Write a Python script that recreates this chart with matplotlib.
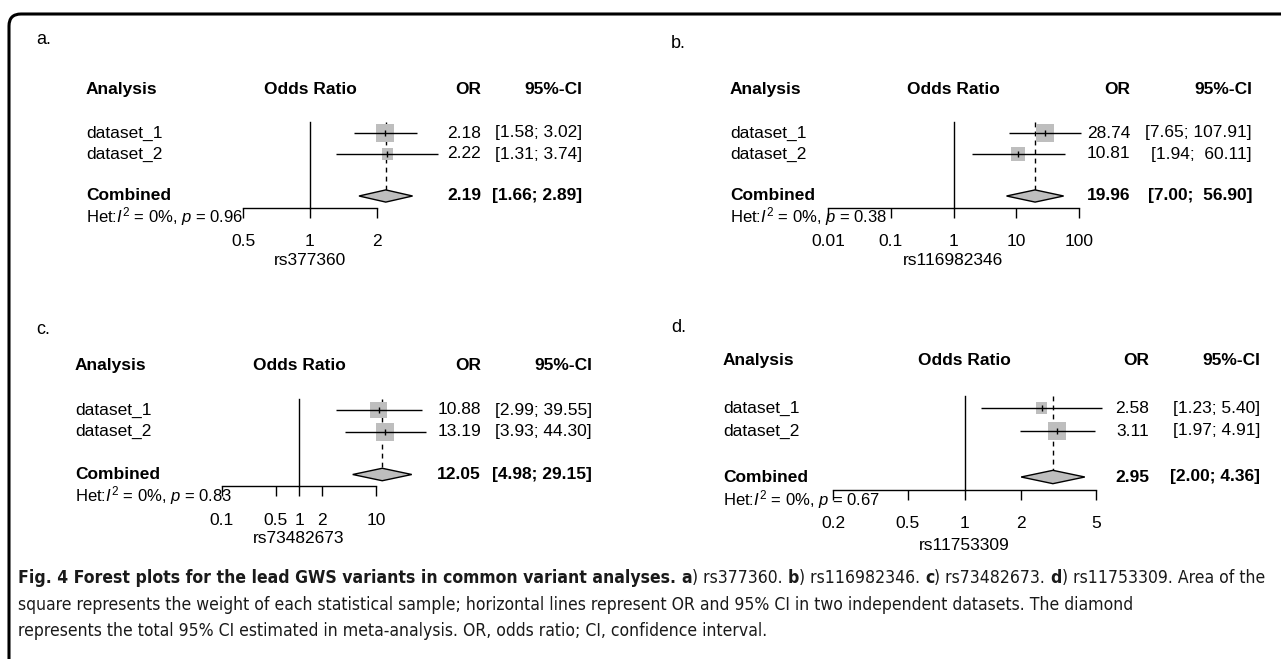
import matplotlib
matplotlib.use('Agg')
import matplotlib.pyplot as plt
import numpy as np
from matplotlib import font_manager
from matplotlib.patches import Polygon, PathPatch
from matplotlib.path import Path
from matplotlib.text import Annotation
from matplotlib.ticker import NullLocator
from matplotlib.transforms import IdentityTransform, blended_transform_factory

W, H = 1281, 659

plt.rcParams['font.family'] = ['Liberation Sans', 'DejaVu Sans']
plt.rcParams['mathtext.fontset'] = 'custom'
plt.rcParams['mathtext.rm'] = 'Liberation Sans'
plt.rcParams['mathtext.it'] = 'Liberation Sans:italic'
plt.rcParams['mathtext.bf'] = 'Liberation Sans:bold'

# ---- data ----
panel_tags = ['a.', 'b.', 'c.', 'd.']
snps = ['rs377360', 'rs116982346', 'rs73482673', 'rs11753309']
studies = ['dataset_1', 'dataset_2']

or_d1 = [2.18, 28.74, 10.88, 2.58]
lo_d1 = [1.58, 7.65, 2.99, 1.23]
hi_d1 = [3.02, 107.91, 39.55, 5.40]

or_d2 = [2.22, 10.81, 13.19, 3.11]
lo_d2 = [1.31, 1.94, 3.93, 1.97]
hi_d2 = [3.74, 60.11, 44.30, 4.91]

or_comb = [2.19, 19.96, 12.05, 2.95]
lo_comb = [1.66, 7.00, 4.98, 2.00]
hi_comb = [2.89, 56.90, 29.15, 4.36]

het_i2 = ['0%', '0%', '0%', '0%']
het_p = ['0.96', '0.38', '0.83', '0.67']

ticks = [[0.5, 1, 2],
         [0.01, 0.1, 1, 10, 100],
         [0.1, 0.5, 1, 2, 10],
         [0.2, 0.5, 1, 2, 5]]
tick_labels = [['0.5', '1', '2'],
               ['0.01', '0.1', '1', '10', '100'],
               ['0.1', '0.5', '1', '2', '10'],
               ['0.2', '0.5', '1', '2', '5']]

# ---- layout (pixels) ----
axis_px = [(243, 377), (828, 1079), (222, 376), (833, 1096)]
row1_px = [133, 133, 410, 408]
row_step = [21, 21, 21.5, 23]
label_x = [86, 730, 75, 723]
or_right = [481, 1130, 481, 1149]
ci_right = [582, 1252, 592, 1260]
tag_xy = [(36, 39), (671, 43), (36, 330), (671, 328)]
xlab_pad = [3, 3, 2, 5]

ROW_TOP, ROW_AXIS = 0.48, 4.55
ROW_HEAD, ROW_COMB, ROW_HET = -1.05, 4.0, 5.0
FS = 12.5
GREY = '#bebebe'
MAX_BOX = 18  # px

fig = plt.figure(figsize=(W / 100, H / 100), dpi=100)

# frame: top and left edges with a rounded corner
r = 12
fx = lambda x: x / W
fy = lambda y: 1 - y / H
verts = [(fx(9), fy(H + 10)), (fx(9), fy(14 + r)), (fx(9), fy(14)),
         (fx(9 + r), fy(14)), (fx(W + 10), fy(14))]
codes = [Path.MOVETO, Path.LINETO, Path.CURVE3, Path.CURVE3, Path.LINETO]
fig.add_artist(PathPatch(Path(verts, codes), transform=fig.transFigure,
                         fill=False, edgecolor='black', linewidth=2.2))


def fmt_ci(lows, highs):
    ls = [f'{v:.2f}' for v in lows]
    hs = [f'{v:.2f}' for v in highs]
    wl = max(len(s) for s in ls)
    wh = max(len(s) for s in hs)
    return [f'[{l.rjust(wl)}; {h.rjust(wh)}]' for l, h in zip(ls, hs)]


for i in range(4):
    x0, x1 = axis_px[i]
    yr1, rp = row1_px[i], row_step[i]
    top = yr1 + (ROW_TOP - 1) * rp
    bot = yr1 + (ROW_AXIS - 1) * rp
    ax = fig.add_axes([x0 / W, 1 - bot / H, (x1 - x0) / W, (bot - top) / H])
    ax.set_xscale('log')
    ax.set_xlim(ticks[i][0], ticks[i][-1])
    ax.set_ylim(ROW_AXIS, ROW_TOP)
    ax.patch.set_visible(False)
    for s in ['top', 'right', 'left']:
        ax.spines[s].set_visible(False)
    ax.spines['bottom'].set_linewidth(1.0)
    ax.set_yticks([])
    ax.set_xticks(ticks[i])
    ax.set_xticklabels(tick_labels[i], fontsize=FS)
    ax.xaxis.set_minor_locator(NullLocator())
    ax.tick_params(axis='x', length=7.2, width=1.0, pad=12)
    ax.set_xlabel(snps[i], fontsize=FS, labelpad=xlab_pad[i])

    # null line and pooled estimate line
    ax.axvline(1, color='black', lw=1.0, clip_on=False)
    est = [or_d1[i], or_d2[i]]
    lo = [lo_d1[i], lo_d2[i]]
    hi = [hi_d1[i], hi_d2[i]]
    rows = [1, 2]
    dh = 0.29
    ax.vlines(or_comb[i], ROW_TOP, ROW_COMB - dh, color='black', lw=1.0,
              linestyle=(0, (3.5, 3)), clip_on=False)

    # study rows: box area from inverse-variance weight
    se = (np.log(hi) - np.log(lo)) / 3.92
    w = 1 / se ** 2
    box = MAX_BOX * np.sqrt(w / w.max())
    ax.scatter(est, rows, s=(box * 0.72) ** 2, marker='s', color=GREY,
               linewidths=0, zorder=2, clip_on=False)
    ax.hlines(rows, lo, hi, color='black', lw=1.0, zorder=3, clip_on=False)
    ax.scatter(est, rows, s=(6 * 0.72) ** 2, marker='|', color='black',
               linewidths=1.0, zorder=4, clip_on=False)

    # diamond
    dia = Polygon([(lo_comb[i], ROW_COMB), (or_comb[i], ROW_COMB - dh),
                   (hi_comb[i], ROW_COMB), (or_comb[i], ROW_COMB + dh)],
                  closed=True, facecolor=GREY, edgecolor='black', lw=1.0,
                  zorder=3, clip_on=False)
    ax.add_patch(dia)

    # text columns
    tr = blended_transform_factory(IdentityTransform(), ax.transData)
    ta = blended_transform_factory(ax.transAxes, ax.transData)
    hdr = dict(fontsize=FS, weight='bold', va='center', transform=tr)
    ax.text(label_x[i], ROW_HEAD, 'Analysis', ha='left', **hdr)
    ax.text(0.5, ROW_HEAD, 'Odds Ratio', ha='center', fontsize=FS,
            weight='bold', va='center', transform=ta)
    ax.text(or_right[i], ROW_HEAD, 'OR', ha='right', **hdr)
    ax.text(ci_right[i], ROW_HEAD, '95%-CI', ha='right', **hdr)

    cis = fmt_ci([lo_d1[i], lo_d2[i], lo_comb[i]],
                 [hi_d1[i], hi_d2[i], hi_comb[i]])
    for rr, name, e, ci in zip(rows, studies, est, cis[:2]):
        ax.text(label_x[i], rr, name, ha='left', va='center', fontsize=FS,
                transform=tr)
        ax.text(or_right[i], rr, f'{e:.2f}', ha='right', va='center',
                fontsize=FS, transform=tr)
        ax.text(ci_right[i], rr, ci, ha='right', va='center', fontsize=FS,
                transform=tr)
    ax.text(label_x[i], ROW_COMB, 'Combined', ha='left', **hdr)
    ax.text(or_right[i], ROW_COMB, f'{or_comb[i]:.2f}', ha='right', **hdr)
    ax.text(ci_right[i], ROW_COMB, cis[2], ha='right', **hdr)
    ax.text(label_x[i], ROW_HET, rf'Het:$I^2$ = {het_i2[i]}, $p$ = {het_p[i]}',
            ha='left', va='center', fontsize=12, transform=tr)

    fig.text(tag_xy[i][0] / W, 1 - tag_xy[i][1] / H, panel_tags[i],
             fontsize=13, ha='left', va='center')

# ---- caption ----
names = {f.name for f in font_manager.fontManager.ttflist}
if 'Liberation Sans Narrow' in names:
    cap_font = dict(family='Liberation Sans Narrow')
else:
    cap_font = dict(family='DejaVu Sans', stretch='condensed')

cap_lines = [
    [('Fig. 4 Forest plots for the lead GWS variants in common variant analyses. ', 'bold'),
     ('a', 'bold'), (f') {snps[0]}. ', 'normal'),
     ('b', 'bold'), (f') {snps[1]}. ', 'normal'),
     ('c', 'bold'), (f') {snps[2]}. ', 'normal'),
     ('d', 'bold'), (f') {snps[3]}. Area of the', 'normal')],
    [('square represents the weight of each statistical sample; horizontal lines '
      'represent OR and 95% CI in two independent datasets. The diamond', 'normal')],
    [('represents the total 95% CI estimated in meta-analysis. OR, odds ratio; '
      'CI, confidence interval.', 'normal')],
]
cap_y = [578, 605, 631]
cap_x = 18
cap_texts = []
last_first_line = None
for line, y in zip(cap_lines, cap_y):
    t = fig.text(cap_x / W, 1 - y / H, line[0][0], weight=line[0][1],
                 fontsize=12, va='center', ha='left', color='#1a1a1a', **cap_font)
    cap_texts.append(t)
    for s, wgt in line[1:]:
        t = Annotation(s, xy=(1, 0), xycoords=t, va='bottom', ha='left',
                       weight=wgt, fontsize=12, color='#1a1a1a', **cap_font)
        fig.add_artist(t)
        cap_texts.append(t)
    if last_first_line is None:
        last_first_line = t

fig.canvas.draw()
rend = fig.canvas.get_renderer()
right = last_first_line.get_window_extent(rend).x1
scale = (1262 - cap_x) / (right - cap_x)
for t in cap_texts:
    t.set_fontsize(12 * scale)

fig.savefig('out.png', dpi=100)
